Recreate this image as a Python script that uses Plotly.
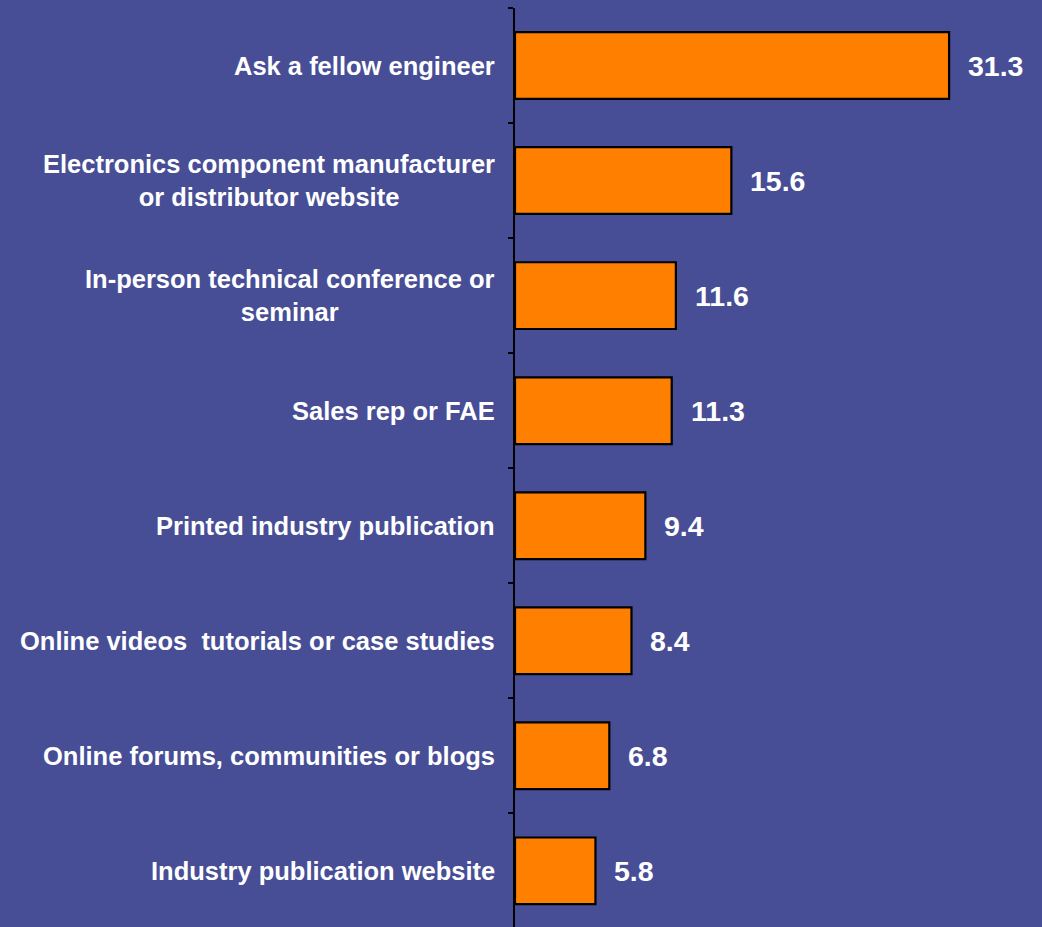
import plotly.graph_objects as go

# Survey sources, listed top to bottom, with their share (%)
categories = [
    "Ask a fellow engineer",
    "Electronics component manufacturer<br>or distributor website",
    "In-person technical conference or<br>seminar",
    "Sales rep or FAE",
    "Printed industry publication",
    "Online videos  tutorials or case studies",
    "Online forums, communities or blogs",
    "Industry publication website",
]
values = [31.3, 15.6, 11.6, 11.3, 9.4, 8.4, 6.8, 5.8]

BG = "#474e96"
BAR = "#ff7f00"
FONT = "Liberation Sans, Arial, Helvetica, sans-serif"

# Bottom-to-top order for the categorical y axis
cats_plot = categories[::-1]
vals_plot = values[::-1]

fig = go.Figure(
    go.Bar(
        x=vals_plot,
        y=cats_plot,
        orientation="h",
        width=0.58,
        marker=dict(color=BAR, line=dict(color="black", width=2.2)),
        hoverinfo="skip",
    )
)

annotations = []
# Value labels to the right of each bar
for c, v in zip(cats_plot, vals_plot):
    annotations.append(dict(
        x=v, y=c, xref="x", yref="y", text=f"{v:.1f}",
        showarrow=False, xanchor="left", yanchor="middle", xshift=17,
        font=dict(family=FONT, size=28.5, color="white", weight="bold"),
    ))
# Category labels, centred block right-anchored next to the axis
for c in cats_plot:
    annotations.append(dict(
        x=0, y=c, xref="paper", yref="y", text=c,
        showarrow=False, xanchor="right", yanchor="middle", xshift=-18,
        align="center",
        font=dict(family=FONT, size=25.5, color="white", weight="bold"),
    ))

fig.update_layout(
    width=1042, height=927,
    margin=dict(l=515, r=0, t=8, b=0),
    paper_bgcolor=BG, plot_bgcolor=BG,
    showlegend=False,
    annotations=annotations,
    xaxis=dict(range=[0, 38.0], visible=False, showgrid=False, zeroline=False),
    yaxis=dict(
        type="category",
        categoryorder="array", categoryarray=cats_plot,
        range=[-0.488, 7.5],
        showticklabels=False,
        showgrid=False, zeroline=False,
        showline=True, linecolor="black", linewidth=2,
        ticks="outside", tickson="boundaries", ticklen=5, tickcolor="black", tickwidth=2,
    ),
)

fig.write_html("out.html")
